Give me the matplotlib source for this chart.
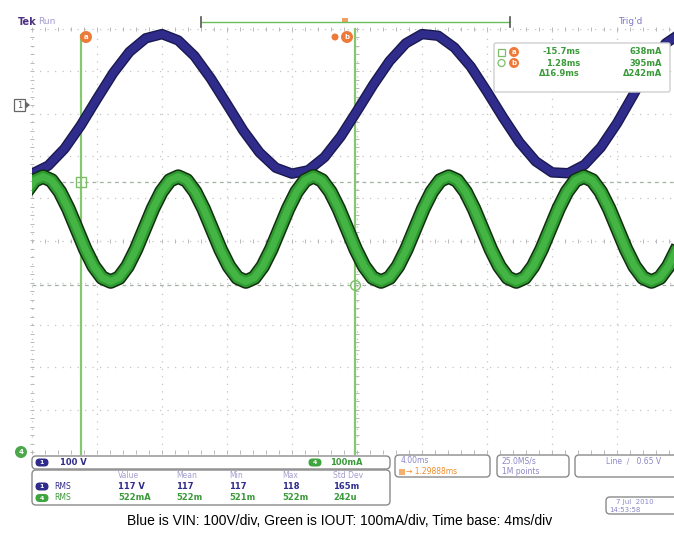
import numpy as np
import matplotlib.pyplot as plt
from matplotlib.patches import FancyBboxPatch, Circle, Rectangle, Polygon

# Screen units are divisions: x = 4 ms/div, y = 100 V/div (CH1) or 100 mA/div (CH4)
# CH1 (blue) - line voltage VIN
vin_t = [0.0, 0.25, 0.5, 0.75, 1.0, 1.25, 1.5, 1.75, 2.0, 2.25, 2.5, 2.75, 3.0, 3.25,
         3.5, 3.75, 4.0, 4.25, 4.5, 4.75, 5.0, 5.25, 5.5, 5.75, 6.0, 6.25, 6.5, 6.75,
         7.0, 7.25, 7.5, 7.75, 8.0, 8.25, 8.5, 8.75, 9.0, 9.25, 9.5, 9.75, 10.0]
vin_div = [1.58, 1.77, 2.17, 2.72, 3.35, 3.96, 4.46, 4.78, 4.88, 4.73, 4.36, 3.83, 3.22, 2.60,
           2.08, 1.72, 1.58, 1.66, 1.97, 2.46, 3.06, 3.68, 4.24, 4.66, 4.88, 4.84, 4.56, 4.11,
           3.52, 2.90, 2.32, 1.87, 1.61, 1.59, 1.79, 2.20, 2.77, 3.44, 4.14, 4.66, 4.92]

# CH4 (green) - output current IOUT
iout_t = [-0.09, 0.04, 0.17, 0.30, 0.43, 0.56, 0.69, 0.82, 0.95, 1.08, 1.21, 1.34, 1.47, 1.60, 1.73, 1.86,
          1.99, 2.12, 2.25, 2.38, 2.51, 2.64, 2.77, 2.90, 3.03, 3.16, 3.29, 3.42, 3.55, 3.68, 3.81, 3.94,
          4.07, 4.20, 4.33, 4.46, 4.59, 4.72, 4.85, 4.98, 5.11, 5.24, 5.37, 5.50, 5.63, 5.76, 5.89, 6.02,
          6.15, 6.28, 6.41, 6.54, 6.67, 6.80, 6.93, 7.06, 7.19, 7.32, 7.45, 7.58, 7.71, 7.84, 7.97, 8.10,
          8.23, 8.36, 8.49, 8.62, 8.75, 8.88, 9.01, 9.14, 9.27, 9.40, 9.53, 9.66, 9.79, 9.92, 10.05]
iout_div = [1.15, 1.42, 1.51, 1.42, 1.15, 0.75, 0.27, -0.21, -0.61, -0.88, -0.97, -0.88, -0.61, -0.21, 0.27, 0.75,
            1.15, 1.42, 1.51, 1.42, 1.15, 0.75, 0.27, -0.21, -0.61, -0.88, -0.97, -0.88, -0.61, -0.21, 0.27, 0.75,
            1.15, 1.42, 1.52, 1.42, 1.15, 0.75, 0.27, -0.21, -0.61, -0.88, -0.97, -0.88, -0.61, -0.21, 0.27, 0.75,
            1.15, 1.42, 1.51, 1.42, 1.15, 0.75, 0.27, -0.21, -0.61, -0.88, -0.97, -0.88, -0.61, -0.21, 0.27, 0.75,
            1.15, 1.42, 1.51, 1.42, 1.15, 0.75, 0.27, -0.21, -0.61, -0.88, -0.97, -0.88, -0.61, -0.21, 0.27]

# cursors a / b (time in div, current level in div, CH4 ground at -5 div)
cursor_t = [0.75, 4.97]
cursor_i = [1.38, -1.05]
readout_rows = [['-15.7ms', '638mA'], ['1.28ms', '395mA'], ['\u039416.9ms', '\u0394242mA']]

meas_head = ['Value', 'Mean', 'Min', 'Max', 'Std Dev']
meas_ch1 = ['117 V', '117', '117', '118', '165m']
meas_ch4 = ['522mA', '522m', '521m', '522m', '242u']

caption = 'Blue is VIN: 100V/div, Green is IOUT: 100mA/div, Time base: 4ms/div'

W, H = 674, 535
NAVY = '#2f2c8c'
GREEN = '#3a9a3a'
ORANGE = '#ee7a3a'
GREY = '#8a8a8a'
HEAD = '#a39fcc'

fig = plt.figure(figsize=(W / 100, H / 100), dpi=100)
fig.patch.set_facecolor('white')

# ---- scope screen ----
left, right, top, bottom = 32, 674, 29, 452
ax = fig.add_axes([left / W, 1 - bottom / H, (right - left) / W, (bottom - top) / H], zorder=1)
ax.set_xlim(0, (right - left) / 65.0)
ax.set_ylim(-5, 5)
ax.axis('off')

grid_kw = dict(color='#c4c4c4', lw=0.9, ls=(0, (1, 5)), zorder=1)
for gx in range(0, 11):
    ax.axvline(gx, **grid_kw)
for gy in range(-5, 6):
    ax.axhline(gy, **grid_kw)

tx = np.arange(0, 10.01, 0.2)
ty = np.arange(-5, 5.01, 0.2)
tick_kw = dict(ls='none', color='#b8b8b8', mew=0.7, ms=3.5, zorder=1, clip_on=False)
ax.plot(tx, np.zeros_like(tx), marker='|', **tick_kw)
ax.plot(tx, np.full_like(tx, 5), marker='|', **tick_kw)
ax.plot(tx, np.full_like(tx, -5), marker='|', **tick_kw)
ax.plot(np.full_like(ty, 5), ty, marker='_', **tick_kw)
ax.plot(np.zeros_like(ty), ty, marker='_', **tick_kw)

# cursors
for ci in cursor_i:
    ax.axhline(ci, color='#a3b0a3', lw=0.9, ls=(0, (3, 3)), zorder=2)
ax.plot([cursor_t[0]] * 2, [-5.05, 4.85], color='#86c870', lw=1.6, zorder=2, clip_on=False)
ax.plot([cursor_t[1]] * 2, [-5.05, 5.0], color='#86c870', lw=1.6, zorder=2, clip_on=False)
ax.plot(cursor_t[0], cursor_i[0], marker='s', ms=7, mfc='none', mec='#7cbf68', mew=1, zorder=3)
ax.plot(cursor_t[1], cursor_i[1], marker='o', ms=7, mfc='none', mec='#7cbf68', mew=1, zorder=3)

# traces
ax.plot(vin_t, vin_div, color='#1a194f', lw=7.5, solid_joinstyle='round', zorder=4)
ax.plot(vin_t, vin_div, color=NAVY, lw=5.5, solid_joinstyle='round', zorder=5)
ax.plot(iout_t, iout_div, color='#112f10', lw=10.5, solid_joinstyle='round', zorder=6)
ax.plot(iout_t, iout_div, color='#2e9a30', lw=8.3, solid_joinstyle='round', zorder=7)
ax.plot(iout_t, iout_div, color='#44b444', lw=5.0, solid_joinstyle='round', zorder=8)

# ---- overlay in pixel coordinates ----
ov = fig.add_axes([0, 0, 1, 1], zorder=3)
ov.set_xlim(0, W)
ov.set_ylim(H, 0)
ov.axis('off')
ov.patch.set_alpha(0)


def box(x0, y0, x1, y1, r=4, ec=GREY, lw=1.0):
    ov.add_patch(FancyBboxPatch((x0, y0), x1 - x0, y1 - y0,
                                boxstyle=f'round,pad=0,rounding_size={r}',
                                fc='white', ec=ec, lw=lw))


def pill(x, y, label, color):
    ov.add_patch(FancyBboxPatch((x - 6.5, y - 4), 13, 8, boxstyle='round,pad=0,rounding_size=4',
                                fc=color, ec='none'))
    ov.text(x, y, label, color='white', fontsize=4.5, ha='center', va='center', weight='bold')


def txt(x, y, s, color, size=6, ha='left', weight='normal'):
    ov.text(x, y, s, color=color, fontsize=size, ha=ha, va='center', weight=weight)


def orange_dot(x, y, label, r=6):
    ov.add_patch(Circle((x, y), r, fc=ORANGE, ec='none'))
    ov.text(x, y, label, color='white', fontsize=5, ha='center', va='center', weight='bold')


# top status line
txt(18, 22, 'Tek', '#4b2f82', size=7, weight='bold')
txt(38, 22, 'Run', '#a39bd0', size=6.5)
txt(618, 22, "Trig'd", '#7f79c4', size=6.5)
ov.plot([202, 509], [22, 22], color='#6abf5a', lw=1.0)
ov.plot([201, 201], [17, 27], color='#555555', lw=1.2)
ov.plot([510, 510], [17, 27], color='#555555', lw=1.2)
ov.add_patch(Rectangle((342, 18), 6, 5, fc='#f0a060', ec='none'))
orange_dot(86, 37, 'a')
orange_dot(347, 37, 'b')
ov.add_patch(Circle((335, 37), 3.5, fc=ORANGE, ec='none'))

# channel ground markers
ov.add_patch(Rectangle((14, 99), 11, 12, fc='white', ec='#666666', lw=0.9))
ov.text(19.5, 105, '1', color='#555555', fontsize=6, ha='center', va='center')
ov.add_patch(Polygon([[25, 101], [30, 105], [25, 109]], closed=True, fc='#666666', ec='none'))
ov.add_patch(Circle((21, 452), 6, fc='#4aa84a', ec='none'))
ov.text(21, 452, '4', color='white', fontsize=5, ha='center', va='center', weight='bold')

# cursor readout
box(494, 43, 670, 92, r=2, ec='#cfcfcf')
ov.add_patch(Rectangle((498, 48.5), 7, 7, fc='white', ec='#7cbf68', lw=0.9))
ov.add_patch(Circle((501.5, 63), 3.5, fc='white', ec='#7cbf68', lw=0.9))
orange_dot(514, 52, 'a', r=5)
orange_dot(514, 63, 'b', r=5)
for row, ry in zip(readout_rows, [52, 63, 74]):
    txt(580, ry, row[0], GREEN, size=6, ha='right', weight='bold')
    txt(662, ry, row[1], GREEN, size=6, ha='right', weight='bold')

# bottom: channel scales
box(32, 456, 390, 469)
pill(42, 462.5, '1', NAVY)
txt(60, 462.5, '100 V', NAVY, size=6, weight='bold')
pill(315, 462.5, '4', '#3fa53f')
txt(330, 462.5, '100mA', GREEN, size=6, weight='bold')

# measurements
box(32, 470, 390, 505)
head_x = [118, 176, 229, 282, 333]
for hx, h, v1, v4 in zip(head_x, meas_head, meas_ch1, meas_ch4):
    txt(hx, 475.5, h, HEAD, size=5.5)
    txt(hx, 486.5, v1, NAVY, size=6, weight='bold')
    txt(hx, 498, v4, GREEN, size=6, weight='bold')
pill(42, 486.5, '1', NAVY)
txt(54, 486.5, 'RMS', NAVY, size=5.5)
pill(42, 498, '4', '#3fa53f')
txt(54, 498, 'RMS', GREEN, size=5.5)

# horizontal / acquisition / trigger
box(395, 455, 490, 477)
txt(401, 460.5, '4.00ms', '#8c87c8', size=5.5)
ov.add_patch(Rectangle((399, 468.5), 6, 6, fc='#f5b070', ec='none'))
txt(406, 471.5, '\u2192 1.29888ms', '#f08c28', size=5.5)
box(497, 455, 569, 477)
txt(502, 460.5, '25.0MS/s', '#8c87c8', size=5.5)
txt(502, 471.5, '1M points', '#8c87c8', size=5.5)
box(575, 455, 684, 477)
txt(606, 461, 'Line  \u2215   0.65 V', '#8c87c8', size=5.5)
box(606, 497, 684, 514)
txt(616, 502, '7 Jul  2010', '#8c87c8', size=5)
txt(609, 510, '14:53:58', '#8c87c8', size=5)

ov.text(340, 521, caption, color='black', fontsize=10, ha='center', va='center',
        family='Liberation Sans')

fig.savefig('out.png', dpi=100)
